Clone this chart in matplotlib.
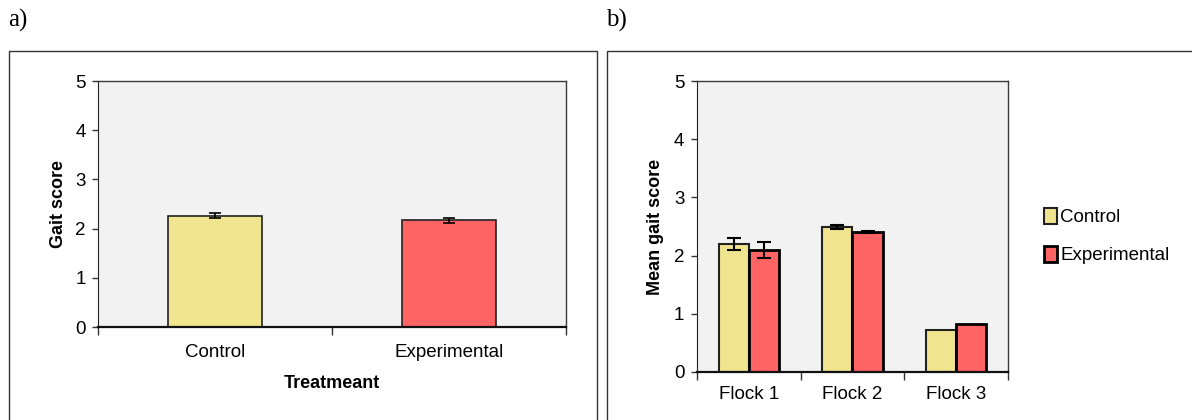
import matplotlib
import numpy as np

matplotlib.use("Agg")

import matplotlib.pyplot as plt
from matplotlib.patches import Rectangle

plt.rcParams["font.family"] = ["Liberation Sans", "DejaVu Sans"]

# panel a: overall treatment means
treatments = ["Control", "Experimental"]
treatment_means = [2.26, 2.17]
treatment_err = [0.05, 0.05]

# panel b: per-flock means
flocks = ["Flock 1", "Flock 2", "Flock 3"]
control_means = [2.20, 2.49, 0.72]
control_err = [0.10, 0.035, 0.0]
experimental_means = [2.10, 2.40, 0.82]
experimental_err = [0.14, 0.02, 0.0]

YELLOW = "#f0e48f"
RED = "#ff6464"
PANEL_BG = "#f2f2f2"
TICK_FS = 13.5
LABEL_FS = 13


def _style_axes(ax, n_cats, labels):
    ax.set_facecolor(PANEL_BG)
    ax.set_xlim(0, n_cats)
    ax.set_ylim(0, 5)
    ax.set_yticks(range(6))
    ax.set_xticks(np.arange(n_cats + 1))
    ax.set_xticklabels([])
    ax.set_xticks(np.arange(n_cats) + 0.5, minor=True)
    ax.set_xticklabels(labels, minor=True)
    ax.tick_params(axis="x", which="major", direction="out", length=6, width=1, color="#333333")
    ax.tick_params(axis="x", which="minor", length=0, pad=12, labelsize=TICK_FS)
    ax.tick_params(axis="y", direction="out", length=4, width=1, pad=5, labelsize=TICK_FS, color="#333333")
    for side in ("top", "right"):
        ax.spines[side].set_color("#3a3a3a")
        ax.spines[side].set_linewidth(1.0)
    ax.spines["left"].set_color("#222222")
    ax.spines["bottom"].set_color("#111111")
    ax.spines["bottom"].set_linewidth(1.6)


fig = plt.figure(figsize=(11.92, 4.2), dpi=100)

# frames around each panel
fig.patches.append(Rectangle((9 / 1192, -0.05), 588 / 1192, 1 - 51 / 420 + 0.05,
                             transform=fig.transFigure, fill=False, edgecolor="#333333", linewidth=1.0))
fig.patches.append(Rectangle((607 / 1192, -0.05), 0.6, 1 - 51 / 420 + 0.05,
                             transform=fig.transFigure, fill=False, edgecolor="#333333", linewidth=1.0))

fig.text(8 / 1192, 1 - 20 / 420, "a)", family=["Liberation Serif", "DejaVu Serif"], fontsize=18, va="center")
fig.text(606 / 1192, 1 - 20 / 420, "b)", family=["Liberation Serif", "DejaVu Serif"], fontsize=18, va="center")

# panel a
ax_a = fig.add_axes([98 / 1192, 1 - 327 / 420, 468 / 1192, 246 / 420])
x_a = np.arange(len(treatments)) + 0.5
ax_a.bar(x_a, treatment_means, width=0.4, color=[YELLOW, RED], edgecolor="#222222", linewidth=1.2, zorder=2)
ax_a.errorbar(x_a, treatment_means, yerr=treatment_err, fmt="none", ecolor="black",
              elinewidth=1.2, capsize=4.5, capthick=1.2, zorder=3)
_style_axes(ax_a, len(treatments), treatments)
ax_a.set_ylabel("Gait score", fontsize=LABEL_FS, fontweight="bold", labelpad=6)
ax_a.set_xlabel("Treatmeant", fontsize=LABEL_FS, fontweight="bold", labelpad=10)

# panel b
ax_b = fig.add_axes([697 / 1192, 1 - 372 / 420, 311 / 1192, 291 / 420])
x_b = np.arange(len(flocks)) + 0.5
bw = 0.29
ax_b.bar(x_b - bw / 2, control_means, width=bw, color=YELLOW, edgecolor="#222222",
         linewidth=1.5, zorder=2, label="Control")
ax_b.bar(x_b + bw / 2, experimental_means, width=bw, color=RED, edgecolor="black",
         linewidth=2.0, zorder=2, label="Experimental")
for offset, means, errs in ((-bw / 2, control_means, control_err),
                            (bw / 2, experimental_means, experimental_err)):
    has_err = np.array(errs) > 0
    ax_b.errorbar((x_b + offset)[has_err], np.array(means)[has_err], yerr=np.array(errs)[has_err],
                  fmt="none", ecolor="black", elinewidth=1.5, capsize=5, capthick=1.5, zorder=3)
_style_axes(ax_b, len(flocks), flocks)
ax_b.tick_params(axis="x", which="minor", pad=10)
ax_b.set_ylabel("Mean gait score", fontsize=LABEL_FS, fontweight="bold", labelpad=7)
ax_b.legend(loc="center left", bbox_to_anchor=(1.06, 0.467), frameon=False, fontsize=TICK_FS,
            handlelength=0.7, handleheight=0.9, handletextpad=0.2, labelspacing=1.05)

fig.savefig("out.png", dpi=100)
